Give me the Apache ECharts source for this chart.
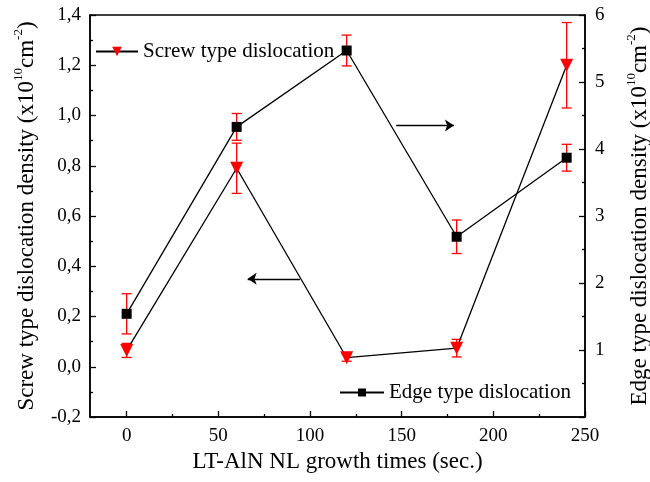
<!DOCTYPE html>
<html>
<head>
    <meta charset="utf-8">
    <script src="https://cdn.jsdelivr.net/npm/echarts@6/dist/echarts.min.js"></script>
</head>
<body style="margin:0">
<div style="width: 650px; height: 482px;" id="main"></div>
<script type="text/javascript">
    // growth times (sec.)
    var times = [0, 60, 120, 180, 240];
    // screw type density, left axis (x10^10 cm^-2)
    var screwVal = [0.065, 0.79, 0.036, 0.074, 1.20];
    var screwErr = [0.028, 0.10, 0.014, 0.035, 0.17];
    // edge type density, right axis (x10^10 cm^-2)
    var edgeVal = [1.54, 4.33, 5.47, 2.69, 3.87];
    var edgeErr = [0.30, 0.20, 0.23, 0.25, 0.20];
    var xMajor = [0, 50, 100, 150, 200, 250];
    var xMinor = [25, 75, 125, 175, 225];

    var font = 'Liberation Serif';
    var myChart = echarts.init(document.getElementById('main'));

    function pairs(v) {
        return times.map(function (t, i) { return [t, v[i]]; });
    }
    function errData(v, e) {
        return times.map(function (t, i) { return [t, v[i] - e[i], v[i] + e[i]]; });
    }
    function errItem(params, api) {
        var lo = api.coord([api.value(0), api.value(1)]);
        var hi = api.coord([api.value(0), api.value(2)]);
        var w = 5;
        var st = {stroke: '#ff0000', lineWidth: 1.3};
        return {
            type: 'group',
            children: [
                {type: 'line', shape: {x1: lo[0], y1: lo[1], x2: hi[0], y2: hi[1]}, style: st},
                {type: 'line', shape: {x1: lo[0] - w, y1: lo[1], x2: lo[0] + w, y2: lo[1]}, style: st},
                {type: 'line', shape: {x1: hi[0] - w, y1: hi[1], x2: hi[0] + w, y2: hi[1]}, style: st}
            ]
        };
    }

    var axisLine = {show: true, onZero: false, lineStyle: {color: '#000', width: 1.5}};
    var labelFont = {color: '#000', fontFamily: font, fontSize: 19};
    var nameRich = {
        a: {fontFamily: font, fontSize: 23, color: '#000', lineHeight: 26, verticalAlign: 'bottom'},
        s: {fontFamily: font, fontSize: 13, color: '#000', lineHeight: 26, verticalAlign: 'top'}
    };

    var opt = {
        animation: false,
        grid: {
            left: 90, right: 65, top: 15, bottom: 65,
            outerBoundsMode: 'none',
            show: true, borderColor: '#000', borderWidth: 1.5
        },
        legend: [
            {
                data: ['Screw type dislocation'],
                left: 90, top: 36,
                itemWidth: 42, itemHeight: 12, itemGap: 4,
                textStyle: {fontFamily: font, fontSize: 21, color: '#000'}
            },
            {
                data: ['Edge type dislocation'],
                left: 334, top: 377,
                itemWidth: 44, itemHeight: 10, itemGap: 4,
                textStyle: {fontFamily: font, fontSize: 21, color: '#000'}
            }
        ],
        xAxis: [
            {
                type: 'value', min: -20, max: 250,
                name: 'LT-AlN NL growth times (sec.)',
                nameLocation: 'middle', nameGap: 33,
                nameTextStyle: {fontFamily: font, fontSize: 23, color: '#000'},
                axisLine: axisLine,
                axisTick: {inside: true, length: 6, customValues: xMajor, lineStyle: {color: '#000', width: 1.3}},
                axisLabel: Object.assign({customValues: xMajor, margin: 10}, labelFont),
                splitLine: {show: false}
            },
            {
                // minor ticks only; sits on the top slot, shifted down onto the bottom edge
                type: 'value', min: -20, max: 250, position: 'top', offset: -402,
                axisLine: {show: false, onZero: false},
                axisTick: {show: true, inside: false, length: 3, customValues: xMinor, lineStyle: {color: '#000', width: 1.3}},
                axisLabel: {show: false, customValues: xMinor},
                splitLine: {show: false}
            }
        ],
        yAxis: [
            {
                type: 'value', min: -0.2, max: 1.4, interval: 0.2,
                name: '{a|Screw type dislocation density (x10}{s|10}{a|cm}{s|-2}{a|)}',
                nameLocation: 'middle', nameGap: 52, nameRotate: 90,
                nameTextStyle: {rich: nameRich},
                axisLine: axisLine,
                axisTick: {inside: true, length: 6, lineStyle: {color: '#000', width: 1.3}},
                minorTick: {show: true, splitNumber: 2, length: 3, lineStyle: {color: '#000', width: 1.3}},
                axisLabel: Object.assign({
                    margin: 9,
                    formatter: function (v) { return v.toFixed(1).replace('.', ','); }
                }, labelFont),
                splitLine: {show: false}
            },
            {
                type: 'value', min: 0, max: 6, interval: 1, position: 'right',
                name: '{a|Edge type dislocation density (x10}{s|10}{a|cm}{s|-2}{a|)}',
                nameLocation: 'middle', nameGap: 40, nameRotate: 90,
                nameTextStyle: {rich: nameRich},
                axisLine: axisLine,
                axisTick: {inside: true, length: 6, lineStyle: {color: '#000', width: 1.3}},
                minorTick: {show: true, splitNumber: 2, length: 3, lineStyle: {color: '#000', width: 1.3}},
                axisLabel: Object.assign({margin: 10, showMinLabel: false}, labelFont),
                splitLine: {show: false}
            }
        ],
        series: [
            {
                type: 'custom', name: 'screwErr', yAxisIndex: 0, z: 2,
                renderItem: errItem, data: errData(screwVal, screwErr)
            },
            {
                type: 'custom', name: 'edgeErr', yAxisIndex: 1, z: 2,
                renderItem: errItem, data: errData(edgeVal, edgeErr)
            },
            {
                name: 'Screw type dislocation', type: 'line', yAxisIndex: 0, z: 3,
                data: pairs(screwVal),
                symbol: 'triangle', symbolRotate: 180, symbolSize: 13,
                lineStyle: {color: '#000', width: 1.3},
                itemStyle: {color: '#ff0000'},
                markLine: {
                    silent: true, symbol: ['none', 'arrow'], symbolSize: 9,
                    label: {show: false},
                    lineStyle: {color: '#000', width: 1.3, type: 'solid'},
                    data: [[{coord: [94.5, 0.35]}, {coord: [66, 0.35]}]]
                }
            },
            {
                name: 'Edge type dislocation', type: 'line', yAxisIndex: 1, z: 3,
                data: pairs(edgeVal),
                symbol: 'rect', symbolSize: 10,
                lineStyle: {color: '#000', width: 1.3},
                itemStyle: {color: '#000'},
                markLine: {
                    silent: true, symbol: ['none', 'arrow'], symbolSize: 9,
                    label: {show: false},
                    lineStyle: {color: '#000', width: 1.3, type: 'solid'},
                    data: [[{coord: [147, 4.35]}, {coord: [178.5, 4.35]}]]
                }
            }
        ]
    };

    myChart.setOption(opt);
</script>
</body>
</html>
